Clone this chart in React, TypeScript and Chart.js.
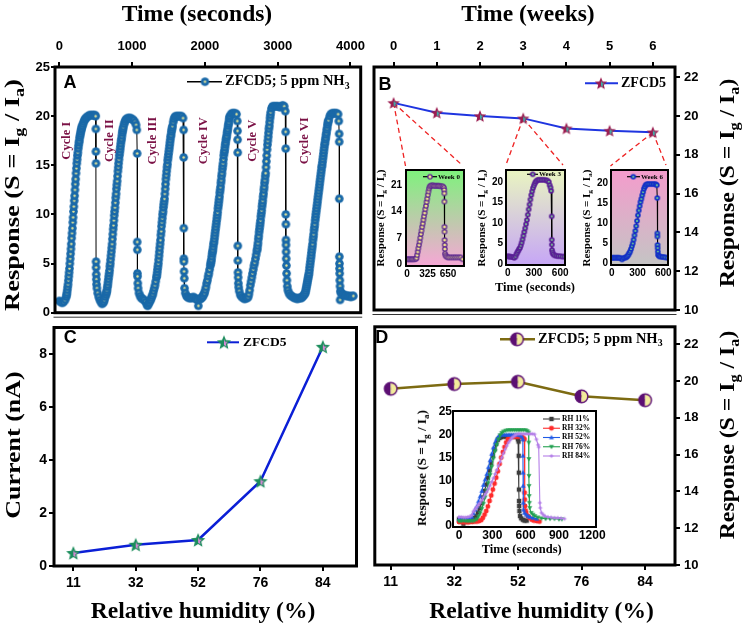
import React, { useEffect, useRef } from 'react';
import { Chart, registerables } from 'chart.js';

Chart.register(...registerables);

const SANS = "'Liberation Sans', Arial, Helvetica, sans-serif";
const SERIF = "'Liberation Serif', 'Times New Roman', Times, serif";

type Pt = [number, number];

// ---------- Panel A: repeated 5 ppm NH3 cycles, [time (s), response] ----------
const cycleI: Pt[] = [
  [0, 1.2], [20, 1.1], [40, 1.0], [60, 1.1], [80, 1.3], [95, 1.6],
  [100, 1.8], [105, 2.0], [110, 2.3], [115, 2.6], [120, 2.9], [125, 3.3], [130, 3.7], [135, 4.1], [140, 4.5], [145, 5.0],
  [150, 5.5], [155, 6.0], [160, 6.5], [165, 7.0], [170, 7.6], [175, 8.1], [180, 8.6], [185, 9.2], [190, 9.7], [195, 10.3],
  [200, 10.8], [205, 11.4], [210, 11.9], [215, 12.5], [220, 13.1], [225, 13.6], [230, 14.2], [235, 14.7], [240, 15.2],
  [245, 15.6], [250, 16.0], [255, 16.3], [260, 16.7], [265, 17.0], [270, 17.3], [275, 17.5], [280, 17.8], [285, 18.0],
  [290, 18.2], [295, 18.4], [300, 18.6], [305, 18.7], [310, 18.9], [315, 19.0], [325, 19.2], [335, 19.4], [345, 19.6],
  [355, 19.7], [365, 19.8], [380, 19.9], [395, 20.0], [415, 20.1], [435, 20.1], [455, 20.1], [475, 20.1], [490, 20.1], [500, 20.0],
  [502, 18.7], [503, 16.4], [504, 15.2], [505, 5.2], [506, 4.6], [507, 3.9], [509, 3.4], [512, 2.9], [517, 2.5],
  [527, 2.0], [542, 1.6], [557, 1.3], [572, 1.1], [587, 0.9], [600, 1.0],
];
const cycleII: Pt[] = [
  [610, 1.1], [620, 1.3], [630, 1.6], [640, 1.8], [645, 2.0], [650, 2.1], [655, 2.3], [660, 2.6], [665, 2.8], [670, 3.1],
  [675, 3.4], [680, 3.7], [685, 4.0], [690, 4.3], [695, 4.7], [700, 5.0], [705, 5.4], [710, 5.8], [715, 6.2], [720, 6.6],
  [725, 7.0], [730, 7.5], [735, 8.0], [740, 8.5], [745, 8.9], [750, 9.4], [755, 9.9], [760, 10.3], [765, 10.7], [770, 11.2],
  [775, 11.7], [780, 12.1], [785, 12.6], [790, 13.0], [795, 13.4], [800, 13.9], [805, 14.4], [810, 14.8], [815, 15.2],
  [820, 15.6], [825, 16.0], [830, 16.3], [835, 16.6], [840, 16.9], [845, 17.2], [850, 17.5], [855, 17.7], [860, 18.0],
  [865, 18.3], [870, 18.5], [875, 18.7], [880, 18.9], [890, 19.2], [900, 19.4], [910, 19.6], [920, 19.7], [940, 19.8],
  [960, 19.8], [980, 19.8], [1000, 19.7], [1020, 19.6], [1040, 19.4], [1055, 19.1], [1065, 18.6],
  [1070, 16.2], [1071, 7.2], [1072, 6.4], [1073, 4.0], [1075, 3.7], [1078, 3.0], [1083, 2.5], [1095, 2.0], [1110, 1.7],
  [1125, 1.5], [1145, 1.4], [1165, 1.3], [1185, 1.1], [1205, 0.8], [1215, 0.7],
];
const cycleIII: Pt[] = [
  [1225, 0.9], [1235, 1.0], [1245, 1.2], [1255, 1.3], [1265, 1.5], [1275, 1.7], [1285, 1.9], [1295, 2.2], [1305, 2.5],
  [1315, 2.8], [1325, 3.2], [1335, 3.6], [1340, 3.8], [1345, 4.1], [1350, 4.4], [1355, 4.7], [1360, 5.0], [1365, 5.4],
  [1370, 5.8], [1375, 6.2], [1380, 6.6], [1385, 7.0], [1390, 7.4], [1395, 7.9], [1400, 8.3], [1405, 8.8], [1410, 9.2],
  [1415, 9.6], [1420, 10.0], [1425, 10.3], [1430, 10.7], [1435, 11.0], [1440, 11.3], [1445, 11.6], [1450, 12.1], [1455, 12.6],
  [1460, 13.1], [1465, 13.6], [1470, 14.0], [1475, 14.4], [1480, 14.8], [1485, 15.1], [1490, 15.5], [1495, 15.8],
  [1500, 16.1], [1505, 16.4], [1510, 16.7], [1515, 17.0], [1520, 17.3], [1525, 17.6], [1530, 17.9], [1535, 18.1],
  [1540, 18.4], [1545, 18.6], [1550, 18.8], [1555, 19.0], [1565, 19.4], [1575, 19.7], [1585, 19.9], [1600, 20.0],
  [1620, 20.0], [1640, 20.0], [1660, 20.0], [1680, 20.0], [1700, 19.8],
  [1708, 18.6], [1709, 15.8], [1710, 8.6], [1711, 5.5], [1712, 5.2], [1714, 4.2], [1717, 3.5], [1721, 2.5], [1731, 2.0],
  [1746, 1.7], [1761, 1.6], [1781, 1.5], [1801, 1.5], [1821, 1.5], [1841, 1.6], [1861, 1.5], [1881, 1.4], [1896, 1.3], [1910, 0.7],
];
const cycleIV: Pt[] = [
  [1925, 1.4], [1940, 1.4], [1955, 1.5], [1965, 1.6], [1975, 1.7], [1985, 1.9], [1995, 2.0], [2005, 2.3], [2015, 2.6],
  [2025, 3.0], [2035, 3.3], [2045, 3.7], [2055, 4.0], [2065, 4.4], [2075, 4.8], [2080, 5.0], [2085, 5.2], [2090, 5.4],
  [2095, 5.7], [2100, 6.0], [2105, 6.2], [2110, 6.4], [2115, 6.7], [2120, 7.0], [2125, 7.2], [2130, 7.5], [2135, 7.8],
  [2140, 8.1], [2145, 8.4], [2150, 8.7], [2155, 9.0], [2160, 9.3], [2165, 9.6], [2170, 9.9], [2175, 10.2], [2180, 10.6],
  [2185, 10.9], [2190, 11.2], [2195, 11.5], [2200, 11.8], [2205, 12.2], [2210, 12.5], [2215, 12.8], [2220, 13.2],
  [2225, 13.5], [2230, 13.9], [2235, 14.2], [2240, 14.6], [2245, 14.9], [2250, 15.2], [2255, 15.6], [2260, 16.0],
  [2265, 16.3], [2270, 16.5], [2275, 16.8], [2280, 17.1], [2285, 17.3], [2290, 17.6], [2295, 17.8], [2300, 18.0],
  [2305, 18.3], [2310, 18.5], [2315, 18.7], [2320, 19.0], [2325, 19.2], [2330, 19.4], [2335, 19.7], [2340, 19.9],
  [2345, 20.0], [2360, 20.2], [2375, 20.3], [2395, 20.3], [2415, 20.3], [2435, 20.2], [2445, 19.5],
  [2449, 18.5], [2450, 17.6], [2451, 16.3], [2452, 6.8], [2453, 5.3], [2455, 4.1], [2457, 3.6], [2460, 3.0], [2464, 2.6],
  [2472, 2.2], [2487, 1.8], [2507, 1.6], [2527, 1.5], [2547, 1.4], [2567, 1.5], [2580, 1.5],
];
const cycleV: Pt[] = [
  [2595, 1.6], [2605, 1.9], [2615, 2.3], [2625, 2.8], [2635, 3.2], [2645, 3.6], [2655, 4.0], [2665, 4.4], [2675, 4.8],
  [2685, 5.1], [2695, 5.5], [2705, 5.9], [2715, 6.3], [2720, 6.5], [2725, 6.8], [2730, 7.1], [2735, 7.5], [2740, 7.8],
  [2745, 8.2], [2750, 8.5], [2755, 8.8], [2760, 9.1], [2765, 9.4], [2770, 9.8], [2775, 10.1], [2780, 10.4], [2785, 10.8],
  [2790, 11.1], [2795, 11.4], [2800, 11.8], [2805, 12.1], [2810, 12.5], [2815, 12.8], [2820, 13.2], [2825, 13.5],
  [2830, 13.9], [2835, 14.2], [2840, 14.8], [2845, 15.4], [2850, 16.0], [2855, 16.6], [2860, 17.1], [2865, 17.5],
  [2870, 17.9], [2875, 18.3], [2880, 18.7], [2885, 19.0], [2890, 19.4], [2895, 19.8], [2900, 20.1], [2905, 20.4],
  [2915, 20.8], [2930, 21.0], [2950, 21.0], [2970, 21.0], [2990, 21.0], [3010, 21.0], [3030, 20.9], [3050, 21.0],
  [3070, 21.1], [3090, 21.0], [3105, 20.5],
  [3110, 18.4], [3111, 16.7], [3112, 10.0], [3113, 9.0], [3114, 7.4], [3115, 6.9], [3116, 6.2], [3118, 5.5], [3120, 4.8],
  [3123, 4.0], [3127, 3.3], [3132, 2.7], [3140, 2.3], [3155, 2.0], [3170, 1.8], [3190, 1.7], [3210, 1.6], [3230, 1.5],
  [3250, 1.5], [3270, 1.4], [3290, 1.5], [3310, 1.5],
];
const cycleVI: Pt[] = [
  [3325, 1.5], [3340, 1.6], [3350, 1.7], [3360, 1.8], [3370, 1.9], [3380, 2.0], [3385, 2.2], [3390, 2.4], [3395, 2.6],
  [3400, 2.8], [3405, 3.0], [3410, 3.2], [3415, 3.4], [3420, 3.6], [3425, 3.8], [3430, 4.0], [3435, 4.3], [3440, 4.6],
  [3445, 4.9], [3450, 5.2], [3455, 5.5], [3460, 5.8], [3465, 6.1], [3470, 6.4], [3475, 6.7], [3480, 7.0], [3485, 7.4],
  [3490, 7.7], [3495, 8.0], [3500, 8.4], [3505, 8.7], [3510, 9.0], [3515, 9.4], [3520, 9.7], [3525, 10.0], [3530, 10.3],
  [3535, 10.6], [3540, 10.9], [3545, 11.2], [3550, 11.5], [3555, 11.8], [3560, 12.1], [3565, 12.4], [3570, 12.7],
  [3575, 13.0], [3580, 13.3], [3585, 13.6], [3590, 13.9], [3595, 14.2], [3600, 14.5], [3605, 14.8], [3610, 15.0],
  [3615, 15.3], [3620, 15.6], [3625, 15.9], [3630, 16.2], [3635, 16.5], [3640, 16.8], [3645, 17.1], [3650, 17.3],
  [3655, 17.6], [3660, 17.8], [3665, 18.1], [3670, 18.3], [3675, 18.6], [3680, 18.8], [3685, 19.1], [3690, 19.3],
  [3695, 19.5], [3700, 19.6], [3715, 20.0], [3730, 20.2], [3750, 20.3], [3770, 20.3], [3790, 20.3], [3810, 20.3],
  [3830, 20.2], [3840, 19.5],
  [3845, 18.2], [3846, 17.4], [3847, 11.6], [3848, 5.7], [3849, 5.0], [3850, 4.5], [3852, 4.0], [3854, 3.3], [3857, 2.7],
  [3858, 1.3], [3862, 2.2], [3870, 2.0], [3885, 1.9], [3905, 1.8], [3925, 1.8], [3945, 1.7], [3965, 1.7], [3985, 1.7],
  [4005, 1.6], [4025, 1.7], [4040, 1.7],
];
const timeTicks = [0, 1000, 2000, 3000, 4000];
const responseTicksA = [0, 5, 10, 15, 20, 25];
const cycleNames = ['Cycle I', 'Cycle II', 'Cycle III', 'Cycle IV', 'Cycle V', 'Cycle VI'];
const cycleNameTimes = [105, 694, 1282, 1980, 2664, 3375];
const cycleNameLevel = 17.5;

// ---------- Panel B: long-term stability ----------
const weeks = [0, 1, 2, 3, 4, 5, 6];
const stabilityResponse = [20.68, 20.17, 20.0, 19.88, 19.36, 19.24, 19.16];
const responseTicksB = [10, 12, 14, 16, 18, 20, 22];

// insets of panel B: single response transients
const week0Trace: Pt[] = [
  [0, 1.3], [20, 1.3], [40, 1.3], [60, 1.3], [80, 1.3], [100, 1.3], [120, 1.3], [140, 1.4], [150, 1.6], [160, 2.4],
  [170, 3.3], [180, 4.2], [190, 5.1], [200, 6.0], [210, 7.0], [220, 8.0], [230, 8.9], [240, 9.9], [250, 10.8], [260, 11.8],
  [270, 12.7], [280, 13.6], [290, 14.6], [300, 15.5], [310, 16.5], [320, 17.4], [330, 18.4], [340, 19.3], [350, 20.1],
  [360, 20.6], [375, 20.8], [390, 20.9], [410, 20.9], [430, 20.8], [450, 20.8], [470, 20.8], [490, 20.8], [510, 20.8],
  [530, 20.7], [550, 20.7], [570, 20.6], [585, 20.3], [590, 19.7], [592, 18.8], [593, 16.6], [594, 9.9], [595, 8.6],
  [596, 6.4], [597, 5.1], [599, 4.0], [602, 2.8], [610, 2.3], [625, 2.0], [645, 1.8], [670, 1.8], [700, 1.8], [730, 1.8],
  [760, 1.8], [790, 1.8], [820, 1.8], [850, 1.8], [880, 1.3],
];
const week3Trace: Pt[] = [
  [0, 1.9], [15, 1.8], [30, 1.8], [45, 1.7], [60, 1.7], [75, 1.5], [90, 1.8], [100, 2.4], [110, 2.8], [120, 3.2], [130, 3.6],
  [140, 3.9], [150, 4.5], [160, 5.2], [170, 6.0], [180, 6.9], [190, 7.8], [200, 8.7], [210, 9.7], [220, 10.7], [230, 12.0],
  [240, 13.3], [250, 14.5], [260, 15.7], [270, 16.8], [280, 17.7], [290, 18.5], [300, 19.1], [310, 19.6], [320, 20.0],
  [330, 20.3], [345, 20.5], [360, 20.5], [380, 20.5], [400, 20.5], [420, 20.5], [440, 20.4], [455, 20.3], [470, 20.0],
  [480, 19.2], [490, 18.6], [497, 17.8], [503, 11.6], [504, 5.9], [505, 4.7], [507, 3.4], [512, 2.8], [520, 2.4],
  [535, 2.1], [555, 2.0], [575, 1.9], [600, 1.9], [625, 1.8], [650, 1.8],
];
const week6Trace: Pt[] = [
  [0, 1.4], [15, 1.4], [30, 1.4], [45, 1.4], [60, 1.4], [75, 1.4], [90, 1.4], [105, 1.3], [120, 1.0], [135, 1.3], [150, 1.4],
  [165, 1.5], [175, 1.6], [185, 1.9], [195, 2.2], [205, 2.6], [215, 3.0], [225, 3.6], [235, 4.3], [245, 5.0], [255, 5.9],
  [265, 7.0], [275, 8.1], [285, 9.3], [295, 10.6], [305, 12.0], [315, 13.2], [325, 14.3], [335, 15.3], [345, 16.1],
  [355, 17.0], [365, 17.8], [375, 18.6], [385, 19.1], [395, 19.5], [405, 19.7], [420, 19.8], [440, 19.8], [460, 19.8],
  [480, 19.8], [500, 19.8], [515, 19.7], [525, 19.5], [530, 16.3], [531, 7.5], [532, 6.7], [533, 4.6], [535, 3.8],
  [537, 2.9], [540, 2.1], [550, 1.8], [565, 1.7], [585, 1.6], [605, 1.6], [625, 1.5], [650, 1.4],
];
const week0TimeTicks = [0, 325, 650];
const week0RespTicks = [0, 7, 14, 21];
const weekTimeTicks = [0, 300, 600];
const weekRespTicks = [0, 5, 10, 15, 20];

// ---------- Panel C: current vs relative humidity ----------
const humidityLabels = ['11', '32', '52', '76', '84'];
const currentNA = [0.49, 0.8, 0.98, 3.2, 8.27];
const currentTicks = [0, 2, 4, 6, 8];

// ---------- Panel D: response vs relative humidity ----------
const humidityResponse = [19.58, 19.84, 19.96, 19.17, 18.96];

// inset of panel D: transients at each humidity
const rh11Trace: Pt[] = [
  [0, 1.5], [20, 1.5], [40, 0.5], [60, 1.4], [80, 1.5], [100, 1.5], [120, 1.6], [140, 1.8], [155, 2.2], [170, 3.0],
  [185, 3.9], [200, 5.0], [215, 6.3], [230, 7.7], [245, 9.1], [260, 10.6], [275, 12.2], [290, 13.8], [305, 15.4],
  [320, 16.8], [335, 18.0], [350, 18.9], [365, 19.3], [380, 19.5], [400, 19.6], [420, 19.6], [440, 19.6], [460, 19.6],
  [480, 19.6], [500, 19.6], [520, 19.5], [532, 19.0], [537, 18.5], [538, 15.4], [539, 11.7], [540, 8.0], [541, 5.5],
  [542, 4.4], [544, 3.3], [550, 2.2], [560, 1.7], [575, 1.4], [590, 1.2], [610, 1.2],
];
const rh32Trace: Pt[] = [
  [0, 0.9], [20, 0.9], [40, 0.8], [60, 0.9], [80, 0.8], [100, 0.9], [120, 0.9], [140, 1.0], [160, 1.0], [180, 1.1],
  [200, 1.3], [215, 1.8], [230, 2.5], [245, 3.3], [260, 4.3], [275, 5.5], [290, 6.7], [305, 8.0], [320, 9.3], [335, 10.6],
  [350, 12.0], [365, 13.6], [380, 15.0], [395, 16.2], [410, 17.3], [425, 18.3], [440, 19.0], [455, 19.4], [470, 19.6],
  [490, 19.6], [510, 19.6], [530, 19.6], [550, 19.6], [570, 19.5], [582, 19.2], [590, 19.0], [591, 7.3], [592, 5.8],
  [594, 4.4], [600, 3.4], [605, 2.9], [620, 2.2], [636, 1.8], [655, 1.4], [675, 1.2], [700, 1.1], [725, 1.0],
];
const rh52Trace: Pt[] = [
  [0, 1.5], [20, 1.6], [40, 1.5], [60, 1.5], [80, 1.6], [100, 1.7], [115, 2.0], [130, 2.8], [145, 3.6], [160, 4.3],
  [175, 5.4], [190, 6.5], [205, 7.7], [220, 9.0], [235, 10.2], [250, 11.4], [265, 12.9], [280, 14.4], [295, 15.8],
  [310, 17.2], [325, 18.3], [340, 19.1], [355, 19.6], [370, 19.9], [390, 20.0], [410, 20.0], [430, 20.0], [450, 20.0],
  [470, 20.0], [490, 20.0], [510, 20.0], [530, 20.0], [550, 19.9], [565, 19.6], [575, 19.0], [576, 15.4], [577, 11.7],
  [578, 8.8], [579, 5.1], [581, 3.6], [590, 2.9], [605, 2.5], [621, 2.2], [640, 2.0], [667, 1.8], [700, 1.6],
];
const rh76Trace: Pt[] = [
  [0, 1.1], [20, 1.1], [40, 1.2], [60, 1.1], [80, 1.1], [100, 1.1], [120, 1.1], [140, 1.2], [160, 1.5], [175, 2.1],
  [190, 2.8], [205, 3.8], [220, 4.9], [235, 6.3], [250, 7.8], [265, 9.4], [280, 11.2], [295, 13.0], [310, 14.8],
  [325, 16.4], [340, 17.8], [355, 19.0], [370, 19.9], [385, 20.4], [400, 20.7], [420, 20.9], [440, 21.0], [460, 21.0],
  [480, 21.0], [500, 21.0], [520, 21.0], [540, 21.0], [560, 21.0], [580, 21.0], [600, 21.0], [615, 20.8], [627, 20.5],
  [628, 18.3], [629, 14.7], [630, 11.0], [631, 8.8], [632, 6.6], [634, 5.1], [637, 4.0], [651, 2.9], [667, 2.5],
  [682, 2.2], [710, 1.9], [743, 1.7], [780, 1.6], [820, 1.6], [860, 1.6], [900, 1.5], [926, 1.5],
];
const rh84Trace: Pt[] = [
  [0, 2.0], [20, 2.0], [40, 1.9], [60, 1.9], [80, 2.0], [100, 2.1], [115, 2.4], [130, 3.2], [145, 3.7], [160, 4.2],
  [175, 4.7], [190, 5.1], [205, 5.7], [220, 6.3], [235, 6.9], [250, 7.5], [265, 8.2], [280, 8.9], [295, 9.7], [310, 10.5],
  [325, 11.4], [340, 12.3], [355, 13.2], [370, 14.1], [385, 15.0], [400, 15.9], [415, 16.8], [430, 17.6], [445, 18.3],
  [460, 18.8], [475, 19.3], [490, 19.6], [505, 19.9], [520, 20.1], [540, 20.2], [560, 20.2], [580, 20.2], [600, 20.2],
  [620, 20.2], [640, 20.2], [660, 20.2], [680, 20.1], [697, 19.0], [712, 17.8], [718, 17.3], [728, 5.1], [732, 4.0],
  [743, 2.9], [758, 2.5], [773, 2.2], [800, 2.0], [830, 1.9], [860, 1.8], [890, 1.8], [920, 1.7], [950, 1.6],
];
const rhNames = ['RH 11%', 'RH 32%', 'RH 52%', 'RH 76%', 'RH 84%'];
const rhTimeTicks = [0, 300, 600, 900, 1200];
const rhRespTicks = [0, 5, 10, 15, 20, 25];

// ---------- layout (page pixels) ----------
type Box = { l: number; t: number; w: number; h: number };
type Area = { l: number; t: number; r: number; b: number };

const AREA_A: Area = { l: 55, t: 67, r: 362, b: 313 };
const AREA_B: Area = { l: 372, t: 67, r: 675, b: 313 };
const AREA_C: Area = { l: 54, t: 321, r: 363, b: 566 };
const AREA_D: Area = { l: 372, t: 321, r: 675, b: 565 };
const AREA_W0: Area = { l: 406, t: 170, r: 464, b: 266 };
const AREA_W3: Area = { l: 506, t: 170, r: 565, b: 265 };
const AREA_W6: Area = { l: 611, t: 170, r: 668, b: 265 };
const AREA_RH: Area = { l: 453, t: 411, r: 596, b: 527 };

const around = (a: Area, padL: number, padT: number, w: number, h: number): Box => ({ l: a.l - padL, t: a.t - padT, w, h });

const BOX: Record<string, Box> = {
  a: { l: 0, t: 0, w: 366, h: 318 },
  b: { l: 366, t: 0, w: 382, h: 318 },
  c: { l: 0, t: 318, w: 366, h: 309 },
  d: { l: 366, t: 318, w: 382, h: 309 },
  w0: around(AREA_W0, 20, 10, 84, 122),
  w3: around(AREA_W3, 20, 10, 84, 122),
  w6: around(AREA_W6, 20, 10, 84, 122),
  rh: around(AREA_RH, 28, 11, 181, 150),
};

// ---------- marker images ----------
function blank(size: number) {
  const c = document.createElement('canvas');
  c.width = size;
  c.height = size;
  return { c, g: c.getContext('2d') as CanvasRenderingContext2D, m: size / 2 };
}

function dot(r: number, outer: string, inner: string, frac: number) {
  const { c, g, m } = blank(Math.ceil(r * 2 + 2));
  g.fillStyle = outer;
  g.beginPath();
  g.arc(m, m, r, 0, Math.PI * 2);
  g.fill();
  g.fillStyle = inner;
  g.beginPath();
  g.arc(m, m, r * frac, 0, Math.PI * 2);
  g.fill();
  return c;
}

function starPath(g: CanvasRenderingContext2D, cx: number, cy: number, R: number, r: number) {
  g.beginPath();
  for (let i = 0; i < 10; i++) {
    const ang = -Math.PI / 2 + (i * Math.PI) / 5;
    const rad = i % 2 === 0 ? R : r;
    const x = cx + rad * Math.cos(ang);
    const y = cy + rad * Math.sin(ang);
    if (i === 0) g.moveTo(x, y);
    else g.lineTo(x, y);
  }
  g.closePath();
}

function star(R: number, body: string, accent: string) {
  const { c, g, m } = blank(Math.ceil(R * 2 + 3));
  starPath(g, m, m + R * 0.08, R, R * 0.45);
  g.fillStyle = body;
  g.fill();
  g.save();
  g.beginPath();
  g.rect(m, 0, m * 2, m * 2);
  g.clip();
  starPath(g, m, m + R * 0.12, R * 0.55, R * 0.25);
  g.fillStyle = accent;
  g.fill();
  g.restore();
  return c;
}

function halfDot(r: number, left: string, right: string, edge: string) {
  const { c, g, m } = blank(Math.ceil(r * 2 + 4));
  g.fillStyle = left;
  g.beginPath();
  g.arc(m, m, r, Math.PI / 2, (Math.PI * 3) / 2);
  g.fill();
  g.fillStyle = right;
  g.beginPath();
  g.arc(m, m, r, -Math.PI / 2, Math.PI / 2);
  g.fill();
  g.strokeStyle = edge;
  g.lineWidth = 1.4;
  g.beginPath();
  g.arc(m, m, r, 0, Math.PI * 2);
  g.stroke();
  return c;
}

function shape(kind: string, r: number, color: string) {
  const { c, g, m } = blank(Math.ceil(r * 2 + 2));
  g.fillStyle = color;
  g.beginPath();
  if (kind === 'square') g.rect(m - r * 0.85, m - r * 0.85, r * 1.7, r * 1.7);
  else if (kind === 'circle') g.arc(m, m, r * 0.95, 0, Math.PI * 2);
  else if (kind === 'tri') {
    g.moveTo(m, m - r);
    g.lineTo(m + r * 0.95, m + r * 0.65);
    g.lineTo(m - r * 0.95, m + r * 0.65);
  } else if (kind === 'triDown') {
    g.moveTo(m, m + r);
    g.lineTo(m + r * 0.95, m - r * 0.65);
    g.lineTo(m - r * 0.95, m - r * 0.65);
  } else {
    for (let i = 0; i < 8; i++) {
      const ang = -Math.PI / 2 + (i * Math.PI) / 4;
      const rad = i % 2 === 0 ? r : r * 0.45;
      const x = m + rad * Math.cos(ang);
      const y = m + rad * Math.sin(ang);
      if (i === 0) g.moveTo(x, y);
      else g.lineTo(x, y);
    }
  }
  g.closePath();
  g.fill();
  return c;
}

// ---------- drawing helpers ----------
type Part = [string, boolean?];

function richText(ctx: CanvasRenderingContext2D, x: number, y: number, parts: Part[], size: number) {
  let cx = x;
  ctx.fillStyle = '#000';
  ctx.textAlign = 'left';
  ctx.textBaseline = 'middle';
  for (const [t, sub] of parts) {
    const fs = sub ? size * 0.68 : size;
    ctx.font = `bold ${fs}px ${SERIF}`;
    ctx.fillText(t, cx, sub ? y + size * 0.3 : y);
    cx += ctx.measureText(t).width;
  }
}

function legendEntry(
  ctx: CanvasRenderingContext2D,
  o: { x0: number; x1: number; y: number; color: string; width: number; marker: HTMLCanvasElement; mx: number; tx: number; parts: Part[]; size: number },
) {
  ctx.strokeStyle = o.color;
  ctx.lineWidth = o.width;
  ctx.setLineDash([]);
  ctx.beginPath();
  ctx.moveTo(o.x0, o.y);
  ctx.lineTo(o.x1, o.y);
  ctx.stroke();
  ctx.drawImage(o.marker, o.mx - o.marker.width / 2, o.y - o.marker.height / 2);
  richText(ctx, o.tx, o.y, o.parts, o.size);
}

function decor(box: Box, spec: { frame: number; bg?: [string, string]; baseLine?: boolean; under?: (c: any) => void; over?: (c: any) => void }) {
  return {
    id: 'decor',
    beforeDatasetsDraw(chart: any) {
      const { ctx, chartArea: a } = chart;
      if (spec.bg) {
        const grad = ctx.createLinearGradient(0, a.top, 0, a.bottom);
        grad.addColorStop(0, spec.bg[0]);
        grad.addColorStop(1, spec.bg[1]);
        ctx.save();
        ctx.fillStyle = grad;
        ctx.fillRect(a.left, a.top, a.right - a.left, a.bottom - a.top);
        ctx.restore();
      }
      if (spec.under) {
        ctx.save();
        spec.under(chart);
        ctx.restore();
      }
    },
    afterDatasetsDraw(chart: any) {
      const { ctx, chartArea: a } = chart;
      ctx.save();
      ctx.strokeStyle = '#000';
      ctx.lineWidth = spec.frame;
      ctx.strokeRect(a.left, a.top, a.right - a.left, a.bottom - a.top);
      if (spec.baseLine) {
        ctx.lineWidth = 1;
        ctx.strokeStyle = '#333';
        ctx.beginPath();
        ctx.moveTo(a.left - 1.5, a.bottom + 4.5);
        ctx.lineTo(a.right + 1.5, a.bottom + 4.5);
        ctx.stroke();
      }
      ctx.restore();
      if (spec.over) {
        ctx.save();
        spec.over(chart);
        ctx.restore();
      }
    },
  };
}

function axis(pos: string, size: number, o: any) {
  const horizontal = pos === 'top' || pos === 'bottom';
  return {
    type: 'linear',
    position: pos,
    min: o.min,
    max: o.max,
    afterBuildTicks: (s: any) => {
      s.ticks = o.ticks.map((v: number) => ({ value: v }));
    },
    afterFit: (s: any) => {
      if (horizontal) s.height = size;
      else s.width = size;
      s.paddingLeft = 0;
      s.paddingRight = 0;
      s.paddingTop = 0;
      s.paddingBottom = 0;
    },
    border: { display: false },
    grid: {
      display: true,
      drawOnChartArea: false,
      drawTicks: o.tick > 0,
      tickLength: o.tick,
      tickWidth: 2,
      tickColor: '#000',
      color: '#000',
      lineWidth: 2,
    },
    ticks: {
      color: '#000',
      padding: o.pad,
      autoSkip: false,
      maxRotation: 0,
      minRotation: 0,
      font: { family: SANS, size: o.font, weight: 'bold' },
      callback: o.fmt || ((v: number) => String(v)),
    },
  };
}

function makeConfig(o: { box: Box; area: Area; vPos: 'left' | 'right'; hPos: 'top' | 'bottom'; x: any; y: any; datasets: any[]; spec: any }) {
  const { box, area } = o;
  const padding = { left: 0, right: 0, top: 0, bottom: 0 };
  let ySize: number;
  let xSize: number;
  if (o.vPos === 'left') {
    ySize = area.l - box.l;
    padding.right = box.l + box.w - area.r;
  } else {
    ySize = box.l + box.w - area.r;
    padding.left = area.l - box.l;
  }
  if (o.hPos === 'top') {
    xSize = area.t - box.t;
    padding.bottom = box.t + box.h - area.b;
  } else {
    xSize = box.t + box.h - area.b;
    padding.top = area.t - box.t;
  }
  return {
    type: 'line',
    data: { datasets: o.datasets },
    options: {
      animation: false,
      responsive: false,
      maintainAspectRatio: false,
      devicePixelRatio: 1,
      events: [],
      layout: { padding },
      plugins: { legend: { display: false }, tooltip: { enabled: false } },
      scales: { x: axis(o.hPos, xSize, o.x), y: axis(o.vPos, ySize, o.y) },
    },
    plugins: [decor(box, o.spec)],
  };
}

const pts = (arr: Pt[]) => arr.map(([x, y]) => ({ x, y }));
const pair = (xs: number[], ys: number[]) => xs.map((x, i) => ({ x, y: ys[i] }));
const idx = humidityLabels.map((_, i) => i);
const humidityFmt = (v: number) => humidityLabels[v] ?? '';

// ---------- chart builders ----------
function chartA() {
  const marker = dot(4.3, '#1a69a8', '#e8e898', 0.28);
  const box = BOX.a;
  return makeConfig({
    box,
    area: AREA_A,
    vPos: 'left',
    hPos: 'top',
    x: { min: -59, max: 4141, ticks: timeTicks, font: 13, tick: 5, pad: 8 },
    y: { min: 0, max: 25, ticks: responseTicksA, font: 13, tick: 4, pad: 1 },
    datasets: [
      {
        data: pts([...cycleI, ...cycleII, ...cycleIII, ...cycleIV, ...cycleV, ...cycleVI]),
        borderColor: '#000',
        borderWidth: 1,
        pointStyle: marker,
        pointRadius: 4.3,
        tension: 0,
      },
    ],
    spec: {
      frame: 3,
      baseLine: true,
      over: (chart: any) => {
        const { ctx } = chart;
        const xs = chart.scales.x;
        const ys = chart.scales.y;
        ctx.fillStyle = '#7b1246';
        ctx.font = `bold 12.5px ${SERIF}`;
        ctx.textAlign = 'center';
        ctx.textBaseline = 'middle';
        cycleNames.forEach((name, i) => {
          ctx.save();
          ctx.translate(xs.getPixelForValue(cycleNameTimes[i]), ys.getPixelForValue(cycleNameLevel));
          ctx.rotate(-Math.PI / 2);
          ctx.fillText(name, 0, 0);
          ctx.restore();
        });
        ctx.translate(-box.l, -box.t);
        legendEntry(ctx, { x0: 187, x1: 222, y: 81.7, color: '#000', width: 1.5, marker, mx: 205, tx: 225, parts: [['ZFCD5; 5 ppm NH'], ['3', true]], size: 14.5 });
      },
    },
  });
}

const ZOOM_LINKS = [
  { week: 0, area: AREA_W0 },
  { week: 3, area: AREA_W3 },
  { week: 6, area: AREA_W6 },
];

function chartB() {
  const marker = star(6.5, '#9c1c50', '#3db5ad');
  const box = BOX.b;
  return makeConfig({
    box,
    area: AREA_B,
    vPos: 'right',
    hPos: 'top',
    x: { min: -0.453, max: 6.513, ticks: weeks, font: 13, tick: 5, pad: 8 },
    y: { min: 10, max: 22.53, ticks: responseTicksB, font: 13, tick: 5, pad: 4 },
    datasets: [
      {
        data: pair(weeks, stabilityResponse),
        borderColor: '#1f35e0',
        borderWidth: 2,
        pointStyle: marker,
        pointRadius: 6,
        tension: 0,
      },
    ],
    spec: {
      frame: 3,
      baseLine: true,
      under: (chart: any) => {
        const { ctx } = chart;
        const xs = chart.scales.x;
        const ys = chart.scales.y;
        ctx.strokeStyle = '#ee2222';
        ctx.lineWidth = 1.3;
        ctx.setLineDash([5, 3.5]);
        ZOOM_LINKS.forEach(({ week, area }) => {
          const px = xs.getPixelForValue(week);
          const py = ys.getPixelForValue(stabilityResponse[weeks.indexOf(week)]);
          const ends = [
            [area.l - 0.5, area.t - 4],
            [area.r - 2, area.t - 5],
          ];
          ends.forEach(([ex, ey]) => {
            ctx.beginPath();
            ctx.moveTo(px, py);
            ctx.lineTo(ex - box.l, ey - box.t);
            ctx.stroke();
          });
        });
      },
      over: (chart: any) => {
        const { ctx } = chart;
        ctx.translate(-box.l, -box.t);
        legendEntry(ctx, { x0: 585, x1: 618, y: 83.3, color: '#1f35e0', width: 2, marker, mx: 601, tx: 621, parts: [['ZFCD5']], size: 14 });
      },
    },
  });
}

function chartC() {
  const marker = star(7.5, '#1b8d5c', '#d889d6');
  const box = BOX.c;
  return makeConfig({
    box,
    area: AREA_C,
    vPos: 'left',
    hPos: 'bottom',
    x: { min: -0.31, max: 4.54, ticks: idx, font: 14, tick: 5, pad: 4, fmt: humidityFmt },
    y: { min: 0, max: 9, ticks: currentTicks, font: 14, tick: 5, pad: 2 },
    datasets: [
      {
        data: pair(idx, currentNA),
        borderColor: '#0b1fd6',
        borderWidth: 2.5,
        pointStyle: marker,
        pointRadius: 7,
        tension: 0,
      },
    ],
    spec: {
      frame: 3,
      over: (chart: any) => {
        const { ctx } = chart;
        ctx.translate(-box.l, -box.t);
        legendEntry(ctx, { x0: 207, x1: 239, y: 342.3, color: '#0b1fd6', width: 2, marker, mx: 224, tx: 243, parts: [['ZFCD5']], size: 13.5 });
      },
    },
  });
}

function chartD() {
  const marker = halfDot(6.3, '#5c0f73', '#f2eb9b', '#5c0f73');
  const box = BOX.d;
  return makeConfig({
    box,
    area: AREA_D,
    vPos: 'right',
    hPos: 'bottom',
    x: { min: -0.25, max: 4.47, ticks: idx, font: 14, tick: 5, pad: 4, fmt: humidityFmt },
    y: { min: 10, max: 22.95, ticks: responseTicksB, font: 13, tick: 5, pad: 4 },
    datasets: [
      {
        data: pair(idx, humidityResponse),
        borderColor: '#7d6b12',
        borderWidth: 2.5,
        pointStyle: marker,
        pointRadius: 6.3,
        tension: 0,
      },
    ],
    spec: {
      frame: 3,
      over: (chart: any) => {
        const { ctx } = chart;
        ctx.translate(-box.l, -box.t);
        legendEntry(ctx, { x0: 500, x1: 535, y: 339.3, color: '#7d6b12', width: 2.5, marker, mx: 517, tx: 538, parts: [['ZFCD5; 5 ppm NH'], ['3', true]], size: 14.5 });
      },
    },
  });
}

function weekInset(o: {
  key: string;
  area: Area;
  trace: Pt[];
  marker: HTMLCanvasElement;
  bg: [string, string];
  x: any;
  y: any;
  legend: { x0: number; x1: number; mx: number; tx: number; y: number; text: string };
}) {
  const box = BOX[o.key];
  return makeConfig({
    box,
    area: o.area,
    vPos: 'left',
    hPos: 'bottom',
    x: o.x,
    y: o.y,
    datasets: [
      { data: pts(o.trace), borderColor: '#000', borderWidth: 1, pointStyle: o.marker, pointRadius: 2.8, tension: 0 },
    ],
    spec: {
      frame: 2,
      bg: o.bg,
      over: (chart: any) => {
        const { ctx } = chart;
        ctx.translate(-box.l, -box.t);
        const L = o.legend;
        legendEntry(ctx, { x0: L.x0, x1: L.x1, y: L.y, color: '#000', width: 1.2, marker: o.marker, mx: L.mx, tx: L.tx, parts: [[L.text]], size: 7 });
      },
    },
  });
}

function chartRH() {
  const box = BOX.rh;
  const traces = [rh11Trace, rh32Trace, rh52Trace, rh76Trace, rh84Trace];
  const colors = ['#3c3c3c', '#ff2b2b', '#1f5ae6', '#22a050', '#b47fe8'];
  const kinds = ['square', 'circle', 'tri', 'triDown', 'star4'];
  const markers = kinds.map((k, i) => shape(k, 2.6, colors[i]));
  return makeConfig({
    box,
    area: AREA_RH,
    vPos: 'left',
    hPos: 'bottom',
    x: { min: -54, max: 1234, ticks: rhTimeTicks, font: 12, tick: 0, pad: 1 },
    y: { min: -0.2, max: 25.2, ticks: rhRespTicks, font: 12, tick: 0, pad: 1 },
    datasets: traces.map((t, i) => ({
      data: pts(t),
      borderColor: colors[i],
      borderWidth: 1.1,
      pointStyle: markers[i],
      pointRadius: 2.6,
      tension: 0,
      order: traces.length - 1 - i,
    })),
    spec: {
      frame: 2,
      over: (chart: any) => {
        const { ctx } = chart;
        ctx.translate(-box.l, -box.t);
        rhNames.forEach((name, i) => {
          legendEntry(ctx, {
            x0: 543, x1: 560, y: 419 + i * 9.25, color: colors[i], width: 1.1,
            marker: markers[i], mx: 551.5, tx: 562, parts: [[name]], size: 7.5,
          });
        });
      },
    },
  });
}

// ---------- text helpers ----------
function Sub({ children }: { children: React.ReactNode }) {
  return <span style={{ fontSize: '0.68em', position: 'relative', top: '0.32em' }}>{children}</span>;
}

function Resp() {
  return (
    <>
      Response (S = I<Sub>g</Sub> / I<Sub>a</Sub>)
    </>
  );
}

function Txt(p: { x: number; y: number; size: number; rot?: boolean; sx?: number; family?: string; children: React.ReactNode }) {
  const sx = p.sx ?? 1;
  return (
    <div
      style={{
        position: 'absolute',
        left: p.x,
        top: p.y,
        transform: `translate(-50%, -50%)${p.rot ? ' rotate(-90deg)' : ''}${sx !== 1 ? ` scaleX(${sx})` : ''}`,
        fontFamily: p.family ?? SERIF,
        fontWeight: 700,
        fontSize: p.size,
        lineHeight: 1,
        color: '#000',
        whiteSpace: 'nowrap',
      }}
    >
      {p.children}
    </div>
  );
}

const CANVAS_KEYS = ['a', 'b', 'c', 'd', 'w0', 'w3', 'w6', 'rh'];

export default function App() {
  const refs = useRef<Record<string, HTMLCanvasElement | null>>({});

  useEffect(() => {
    const builders: Record<string, () => any> = {
      a: chartA,
      b: chartB,
      c: chartC,
      d: chartD,
      w0: () =>
        weekInset({
          key: 'w0',
          area: AREA_W0,
          trace: week0Trace,
          marker: dot(2.8, '#5a2490', '#f1e48c', 0.55),
          bg: ['#7ef27c', '#f6a7d6'],
          x: { min: -16, max: 903, ticks: week0TimeTicks, font: 10, tick: 0, pad: 2 },
          y: { min: -0.5, max: 25, ticks: week0RespTicks, font: 10, tick: 0, pad: 4 },
          legend: { x0: 423, x1: 437, mx: 430, tx: 438, y: 176.7, text: 'Week 0' },
        }),
      w3: () =>
        weekInset({
          key: 'w3',
          area: AREA_W3,
          trace: week3Trace,
          marker: dot(2.8, '#5a1f96', '#7fe08e', 0.35),
          bg: ['#e9f5c0', '#c6a6f6'],
          x: { min: -19, max: 655, ticks: weekTimeTicks, font: 10, tick: 0, pad: 2 },
          y: { min: -0.25, max: 22.9, ticks: weekRespTicks, font: 10, tick: 0, pad: 3 },
          legend: { x0: 527, x1: 538, mx: 532.7, tx: 539, y: 174.3, text: 'Week 3' },
        }),
      w6: () =>
        weekInset({
          key: 'w6',
          area: AREA_W6,
          trace: week6Trace,
          marker: dot(2.8, '#1431c6', '#76e08c', 0.35),
          bg: ['#f49ccc', '#c4c4c4'],
          x: { min: -8, max: 655, ticks: weekTimeTicks, font: 10, tick: 0, pad: 2 },
          y: { min: -0.4, max: 23.3, ticks: weekRespTicks, font: 10, tick: 0, pad: 3 },
          legend: { x0: 627, x1: 640, mx: 633.3, tx: 641, y: 176.7, text: 'Week 6' },
        }),
      rh: chartRH,
    };
    const charts: Chart[] = [];
    CANVAS_KEYS.forEach((k) => {
      const el = refs.current[k];
      if (el) charts.push(new Chart(el, builders[k]()));
    });
    return () => charts.forEach((c) => c.destroy());
  }, []);

  return (
    <div style={{ position: 'absolute', left: 0, top: 0, width: 748, height: 627, background: '#fff', overflow: 'hidden' }}>
      {CANVAS_KEYS.map((k) => (
        <canvas
          key={k}
          ref={(el) => {
            refs.current[k] = el;
          }}
          width={BOX[k].w}
          height={BOX[k].h}
          style={{ position: 'absolute', left: BOX[k].l, top: BOX[k].t, width: BOX[k].w, height: BOX[k].h }}
        />
      ))}

      <Txt x={197} y={13.5} size={23.5}>Time (seconds)</Txt>
      <Txt x={528} y={13.5} size={23.5}>Time (weeks)</Txt>
      <Txt x={12} y={195} size={22} rot sx={1.2}><Resp /></Txt>
      <Txt x={726.5} y={182.5} size={22} rot sx={1.08}><Resp /></Txt>
      <Txt x={727} y={435} size={22} rot sx={1.08}><Resp /></Txt>
      <Txt x={12.5} y={445} size={22} rot sx={1.18}>Current (nA)</Txt>
      <Txt x={203} y={611} size={23.5}>Relative humidity (%)</Txt>
      <Txt x={541.5} y={611} size={23.5}>Relative humidity (%)</Txt>

      <Txt x={70} y={81.5} size={18} family={SANS}>A</Txt>
      <Txt x={385} y={83.5} size={18} family={SANS}>B</Txt>
      <Txt x={70.3} y={336.7} size={18} family={SANS}>C</Txt>
      <Txt x={381.7} y={336.7} size={18} family={SANS}>D</Txt>

      <Txt x={380.5} y={218} size={10.5} rot sx={1.05}><Resp /></Txt>
      <Txt x={481.5} y={218} size={10.5} rot sx={1.05}><Resp /></Txt>
      <Txt x={587} y={218} size={10.5} rot sx={1.05}><Resp /></Txt>
      <Txt x={535} y={287} size={12.5}>Time (seconds)</Txt>
      <Txt x={421.5} y={467.5} size={12} rot sx={1.1}><Resp /></Txt>
      <Txt x={521.7} y={549} size={12.5}>Time (seconds)</Txt>
    </div>
  );
}
